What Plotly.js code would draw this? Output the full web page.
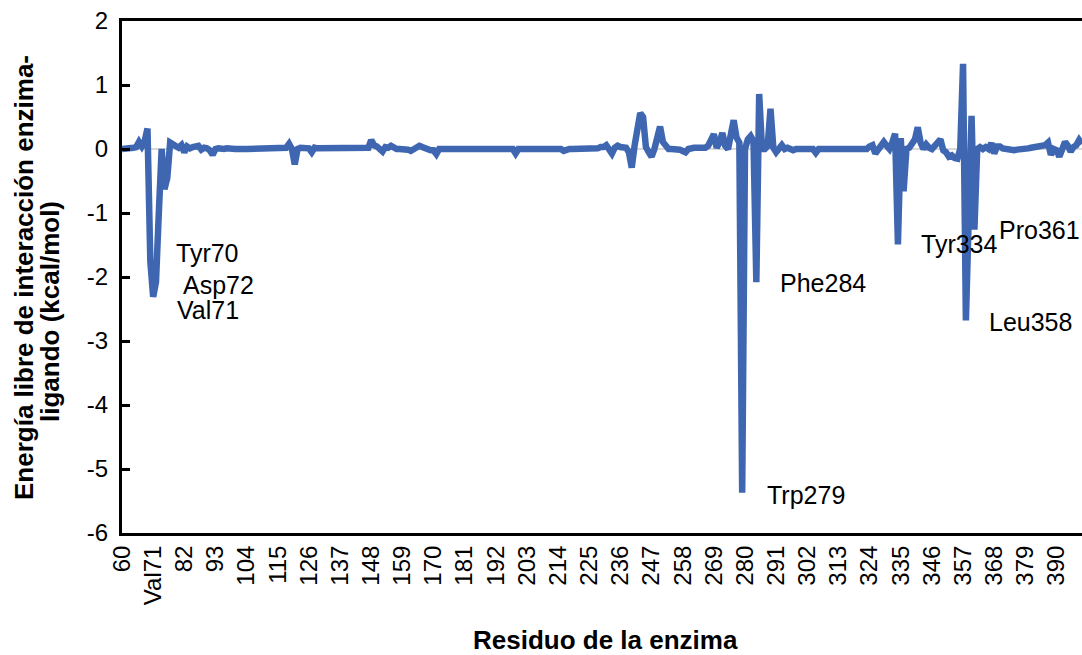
<!DOCTYPE html>
<html>
<head>
<meta charset="utf-8">
<script src="https://cdn.plot.ly/plotly-3.0.1.min.js"></script>
<style>html,body{margin:0;padding:0;background:#fff;}#chart{width:1082px;height:655px;}</style>
</head>
<body>
<div id="chart"></div>
<script>
// First residue number of the series (consecutive residues)
const firstResidue = 60;

// Interaction free energy per residue (kcal/mol), residues 60..399
const energy = [
  0, 0, 0, 0.01, 0.02, 0.03, 0.11, 0.04, 0.12, 0.32,
  -1.75, -2.31, -2.08, -1.0, 0.0, -0.63, -0.45, 0.1, 0.07, 0.03,
  0.02, 0.06, -0.05, 0.04, 0.01, 0.03, 0.05, 0.05, -0.01, 0.02,
  0.01, -0.02, -0.09, 0.0, 0.01, 0.0, 0.0, 0.01, 0.0, 0.0,
  0.0, 0.0, 0.01, 0.0, 0.0, 0.0, 0.01, 0.0, 0.0, 0.0,
  0.0, 0.0, 0.0, 0.01, 0.0, 0.0, 0.0, 0.0, 0.02, 0.08,
  0.0, -0.24, 0.0, 0.02, 0.02, 0.0, 0.01, -0.05, 0.02, 0.01,
  0.01, 0.02, 0.0, 0.0, 0.0, 0.0, 0.0, 0.01, 0.0, 0.0,
  0.0, 0.0, 0.0, 0.0, 0.0, 0.0, 0.0, 0.02, 0.14, 0.06,
  0.04, 0.0, -0.04, 0.03, 0.02, 0.05, 0.02, 0.0, 0.0, 0.0,
  0.0, -0.01, -0.03, 0.0, 0.02, 0.05, 0.03, 0.01, 0.0, -0.02,
  -0.02, -0.08, 0.0, 0.0, 0.0, 0.0, 0.0, 0.0, 0.0, 0.0,
  0.0, 0.0, 0.0, 0.0, 0.0, 0.0, 0.0, 0.0, 0.0, 0.0,
  0.0, 0.0, 0.0, 0.0, 0.0, 0.0, 0.0, 0.0, 0.0, -0.07,
  0.0, 0.0, 0.0, 0.0, 0.0, 0.0, 0.0, 0.0, 0.0, 0.0,
  0.0, 0.0, 0.0, 0.0, 0.0, 0.0, -0.03, 0.0, 0.0, 0.0,
  0.0, 0.0, 0.0, 0.0, 0.0, 0.0, 0.0, 0.0, 0.01, 0.03,
  0.03, 0.06, 0.0, -0.07, 0.02, 0.05, 0.03, 0.02, 0.02, -0.05,
  -0.29, 0.05, 0.3, 0.56, 0.5, 0.03, -0.05, -0.12, 0.0, 0.2,
  0.35, 0.11, 0.03, 0.0, 0.0, 0.0, 0.0, -0.01, -0.03, -0.05,
  0.0, 0.02, 0.02, 0.02, 0.02, 0.02, 0.02, 0.05, 0.15, 0.23,
  0.02, 0.1, 0.25, 0.05, 0.0, 0.2, 0.45, 0.18, 0.1, -5.37,
  0.0, 0.15, 0.2, 0.12, -2.08, 0.86, 0.0, 0.0, 0.05, 0.63,
  0.02, -0.05, 0.0, 0.06, 0.0, 0.02, 0.0, -0.02, 0.0, 0.0,
  0.0, 0.0, 0.0, 0.0, 0.0, -0.06, 0.0, 0.0, 0.0, 0.0,
  0.0, 0.0, 0.0, 0.0, 0.0, 0.0, 0.01, 0.0, 0.0, 0.0,
  0.0, 0.02, 0.02, 0.0, 0.04, 0.06, -0.07, 0.0, 0.04, 0.11,
  0.05, 0.0, 0.1, 0.24, -1.49, 0.17, -0.66, 0.0, 0.02, 0.1,
  0.15, 0.34, 0.1, 0.0, 0.07, 0.02, 0.0, 0.05, 0.1, 0.15,
  -0.02, -0.05, -0.12, -0.1, -0.14, -0.15, 0.0, 1.33, -2.68, -1.0,
  0.52, -1.26, 0.0, 0.03, 0.0, 0.03, 0.0, 0.09, -0.07, 0.04,
  0.04, 0.01, 0.0, 0.0, -0.02, -0.02, -0.01, -0.01, 0.0, 0.0,
  0.01, 0.02, 0.03, 0.03, 0.04, 0.06, 0.06, 0.1, -0.09, 0.0,
  -0.02, -0.12, 0.0, 0.11, 0.05, -0.04, 0.03, 0.06, 0.14, 0.08
];

const residues = energy.map((_, i) => firstResidue + i);

// x tick positions and labels
const tickVals = [60, 71, 82, 93, 104, 115, 126, 137, 148, 159, 170, 181, 192, 203, 214, 225,
                  236, 247, 258, 269, 280, 291, 302, 313, 324, 335, 346, 357, 368, 379, 390];
const tickText = ["60", "Val71", "82", "93", "104", "115", "126", "137", "148", "159", "170", "181",
                  "192", "203", "214", "225", "236", "247", "258", "269", "280", "291", "302", "313",
                  "324", "335", "346", "357", "368", "379", "390"];

// y tick positions and labels (plain hyphen minus, as in the original)
const yTickVals = [2, 1, 0, -1, -2, -3, -4, -5, -6];
const yTickText = ["2", "1", "0", "-1", "-2", "-3", "-4", "-5", "-6"];

// residue labels
const labelText = ["Tyr70", "Asp72", "Val71", "Phe284", "Trp279", "Tyr334", "Pro361", "Leu358"];
const labelX = [78.4, 80.8, 78.8, 291.8, 287.0, 341.6, 369.0, 365.4];
const labelY = [-1.63, -2.13, -2.52, -2.09, -5.40, -1.48, -1.26, -2.70];

const FONT = "Liberation Sans, Arial, sans-serif";

const trace = {
  x: residues,
  y: energy,
  type: "scatter",
  mode: "lines",
  line: {color: "#3F67B1", width: 6.5},
  hoverinfo: "x+y"
};

const annotations = labelText.map((t, i) => ({
  x: labelX[i], y: labelY[i], xref: "x", yref: "y",
  text: t, showarrow: false, xanchor: "left", yanchor: "middle",
  font: {family: FONT, size: 25, color: "#000"}
}));

// axis titles as annotations for precise placement
annotations.push({
  xref: "paper", yref: "paper", x: (24 - 122) / 960, y: (533 - 278) / 512,
  text: "<b>Energía libre de interacción enzima-</b>", textangle: -90,
  showarrow: false, xanchor: "center", yanchor: "middle",
  font: {family: FONT, size: 26, color: "#000"}
});
annotations.push({
  xref: "paper", yref: "paper", x: (50 - 122) / 960, y: (533 - 312) / 512,
  text: "<b>ligando (kcal/mol)</b>", textangle: -90,
  showarrow: false, xanchor: "center", yanchor: "middle",
  font: {family: FONT, size: 26, color: "#000"}
});
annotations.push({
  xref: "paper", yref: "paper", x: (605 - 122) / 960, y: (533 - 640) / 512,
  text: "<b>Residuo de la enzima</b>",
  showarrow: false, xanchor: "center", yanchor: "middle",
  font: {family: FONT, size: 26, color: "#000"}
});

const layout = {
  width: 1082, height: 655,
  margin: {l: 122, r: 0, t: 21, b: 122, pad: 0},
  paper_bgcolor: "#fff", plot_bgcolor: "#fff",
  showlegend: false,
  font: {family: FONT, color: "#000"},
  xaxis: {
    range: [60, 399], tickmode: "array", tickvals: tickVals, ticktext: tickText,
    tickangle: -90, ticks: "", showgrid: false, zeroline: false,
    showline: true, linecolor: "#000", linewidth: 3, mirror: true,
    tickfont: {family: FONT, size: 24, color: "#000"}
  },
  yaxis: {
    range: [-6, 2], tickmode: "array", tickvals: yTickVals, ticktext: yTickText,
    ticks: "inside", ticklen: 8, tickwidth: 3, tickcolor: "#000", ticklabelstandoff: 6,
    showgrid: false, zeroline: true, zerolinecolor: "#d9d9d9", zerolinewidth: 2,
    showline: true, linecolor: "#000", linewidth: 3,
    tickfont: {family: FONT, size: 24, color: "#000"}
  },
  annotations: annotations
};

Plotly.newPlot("chart", [trace], layout, {displayModeBar: false, staticPlot: true});
</script>
</body>
</html>
